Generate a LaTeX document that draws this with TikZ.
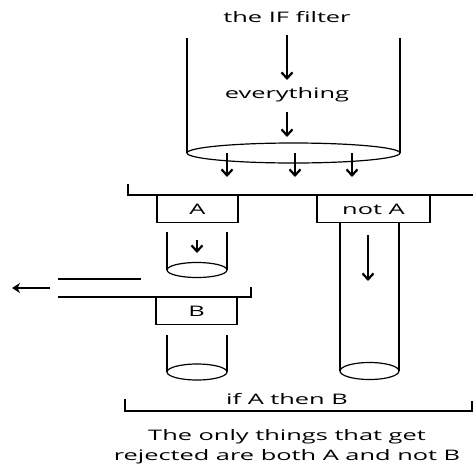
\documentclass[tikz,border=0pt]{standalone}
\usepackage{fontspec}
\setmainfont[FakeStretch=1.75]{Open Sans}
\usetikzlibrary{arrows.meta}
\begin{document}
\begin{tikzpicture}[x=1pt,y=-1pt,line width=1.2pt,
  every node/.style={font=\fontsize{14.5}{16}\selectfont, inner sep=0pt},
  down/.style={line width=1.4pt,-{Straight Barb[length=6pt,width=11pt,line width=2.2pt]}},
  lbox/.style={draw, minimum height=27pt, anchor=north}]
\useasboundingbox (0,0) rectangle (473,475);

% top labels and the big funnel
\node (title) at (287,17) {the IF filter};
\node (every) at (287,95) {everything};
\coordinate (t0) at (287,35);
\coordinate (t1) at (287,80);
\draw[down] (t0) -- (t1);
\coordinate (e0) at (287,112);
\coordinate (e1) at (287,137);
\draw[down] (e0) -- (e1);
\draw (187,38) -- (187,153);
\draw (400,38) -- (400,153);
\draw (293.5,153) ellipse [x radius=106.5, y radius=10];

% three streams out of the funnel
\foreach \xx/\nm in {227/a,295/b,352/c}{
  \coordinate (s\nm0) at (\xx,153);
  \coordinate (s\nm1) at (\xx,177);
  \draw[down] (s\nm0) -- (s\nm1);
}

% upper bracket
\draw (128,184) -- (128,195) -- (473,195);

% box A with its short tube
\node[lbox, minimum width=81pt] (A) at (197.5,195) {A};
\draw (167,232) -- (167,270);
\draw (227,232) -- (227,270);
\draw (197,270) ellipse [x radius=30, y radius=7.5];
\coordinate (a0) at (197,240);
\coordinate (a1) at (197,253);
\draw[down] (a0) -- (a1);

% box not A with its long tube
\node[lbox, minimum width=113pt] (notA) at (373.5,195) {not A};
\draw (340,222) -- (340,371);
\draw (399,222) -- (399,371);
\draw (369.5,371) ellipse [x radius=29.5, y radius=8.5];
\coordinate (n0) at (368,235);
\coordinate (n1) at (368,281);
\draw[down] (n0) -- (n1);

% rejection channel
\draw (58,279) -- (141,279);
\draw (58,297) -- (251,297) -- (251,287);
\coordinate (r0) at (50,288);
\coordinate (r1) at (12,288);
\draw[-{Stealth[length=8pt,width=10pt,inset=2.5pt]}] (r0) -- (r1);

% box B with its tube
\node[lbox, minimum width=81pt] (B) at (196.5,297) {B};
\draw (167,335) -- (167,372);
\draw (227,335) -- (227,372);
\draw (197,372) ellipse [x radius=30, y radius=8];

% lower bracket
\node (ifab) at (287,399) {if A then B};
\draw (125,399) -- (125,411) -- (472,411) -- (472,401);

% caption
\node[align=center, font=\fontsize{14.5}{20}\selectfont] (cap) at (287,447)
  {The only things that get\\rejected are both A and not B};
\end{tikzpicture}
\end{document}
